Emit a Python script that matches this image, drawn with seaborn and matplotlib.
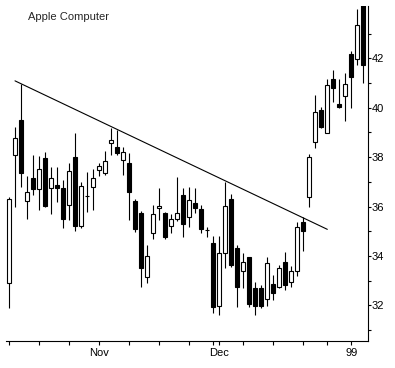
import numpy as np
import pandas as pd
import seaborn as sns
import matplotlib.pyplot as plt

# daily OHLC, Oct 12 1998 .. Jan 6 1999 (trading days)
opens = [32.90, 38.10, 39.50, 36.24, 37.15, 36.70, 37.95, 36.74, 36.87, 36.74,
         36.05, 38.00, 35.22, 36.44, 36.81, 37.48, 37.37, 38.56, 38.40, 37.89,
         37.75, 36.23, 35.73, 33.17, 34.94, 35.93, 35.73, 35.22, 35.49, 36.47,
         35.57, 36.13, 35.89, 35.05, 34.54, 31.98, 34.11, 36.30, 34.31, 33.38,
         33.95, 32.70, 32.70, 32.25, 32.86, 32.74, 33.75, 32.94, 33.40, 35.37,
         36.38, 38.63, 39.91, 38.99, 41.16, 40.14, 40.49, 42.17, 41.96, 44.50]
closes = [36.30, 38.76, 37.37, 36.60, 36.70, 37.51, 36.02, 37.15, 36.74, 35.49,
          37.44, 35.22, 36.83, 36.44, 37.15, 37.64, 37.85, 38.70, 38.18, 38.20,
          36.60, 35.08, 33.53, 34.00, 35.69, 36.03, 34.78, 35.49, 35.73, 35.30,
          36.27, 35.93, 35.11, 35.05, 31.93, 34.11, 36.03, 33.64, 32.74, 33.74,
          32.04, 31.98, 31.98, 33.73, 32.49, 33.53, 32.83, 33.41, 35.19, 35.03,
          37.99, 39.82, 39.23, 40.92, 40.81, 40.04, 40.95, 41.26, 43.35, 41.73]
highs = [36.40, 39.23, 40.96, 37.24, 38.09, 38.05, 38.22, 37.61, 37.60, 37.08,
         37.75, 38.97, 37.00, 37.41, 37.51, 37.78, 38.26, 39.17, 39.10, 38.42,
         38.16, 36.30, 35.84, 34.45, 36.07, 36.74, 35.80, 35.70, 37.21, 36.74,
         36.81, 36.74, 36.07, 35.16, 34.81, 34.81, 37.01, 36.51, 34.45, 34.11,
         33.97, 32.96, 32.83, 33.97, 33.23, 33.62, 34.18, 33.60, 35.39, 35.57,
         38.13, 40.52, 40.04, 41.15, 41.53, 41.16, 41.39, 42.31, 43.98, 44.80]
lows = [31.89, 36.00, 36.81, 35.49, 36.47, 35.86, 35.99, 35.70, 36.20, 35.12,
        35.46, 35.03, 35.12, 35.79, 35.86, 37.24, 37.28, 38.09, 38.09, 37.28,
        35.46, 34.99, 32.76, 32.90, 34.68, 35.46, 34.70, 34.92, 35.43, 34.77,
        35.19, 35.73, 34.92, 34.76, 31.71, 31.62, 33.50, 33.57, 31.95, 32.72,
        31.95, 31.62, 31.89, 31.98, 32.22, 32.70, 32.63, 32.74, 33.19, 34.22,
        36.00, 38.38, 39.17, 38.97, 40.24, 39.98, 39.48, 39.98, 41.73, 41.01]

# trendline drawn over the highs
trend_x = [0.95, 53.0]
trend_y = [41.09, 35.08]

# axis ticks (trading-day index)
month_ticks = [15, 35, 57]
month_labels = ["Nov", "Dec", "99"]
week_ticks = [0, 5, 10, 20, 25, 30, 34, 39, 44, 49, 53]

df = pd.DataFrame({"day": np.arange(len(opens)), "open": opens, "high": highs,
                   "low": lows, "close": closes})
df["up"] = df["close"] >= df["open"]
df["bottom"] = df[["open", "close"]].min(axis=1)
df["height"] = (df["close"] - df["open"]).abs()

sns.set_style("ticks")
plt.rcParams['font.family'] = ['Liberation Sans', 'DejaVu Sans']

fig = plt.figure(figsize=(3.95, 3.68), dpi=100)
ax = fig.add_axes([6 / 395, 1 - 341 / 368, (367.7 - 6) / 395, (341 - 6) / 368])

ax.vlines(df["day"], df["low"], df["high"], color="black", lw=0.8, zorder=1)
ax.bar(df["day"], df["height"], bottom=df["bottom"], width=0.68,
       color=np.where(df["up"], "white", "black"), edgecolor="black",
       linewidth=0.8, zorder=2)
sns.lineplot(x=trend_x, y=trend_y, color="black", lw=0.8, ax=ax)

ax.set_xlim(-0.55, 59.73)
ax.set_ylim(30.56, 44.12)
ax.yaxis.tick_right()
ax.set_yticks(range(32, 43, 2))
ax.set_yticks(range(31, 44, 2), minor=True)
ax.set_xticks(month_ticks, month_labels)
ax.set_xticks(week_ticks, minor=True)
ax.tick_params(axis="y", which="both", direction="out", length=2.5, width=0.8,
               pad=0.5, labelsize=8, colors="black")
ax.tick_params(axis="x", which="both", direction="out", length=3, width=0.8,
               pad=2, labelsize=8, colors="black")
for s in ["left", "top"]:
    ax.spines[s].set_visible(False)
for s in ["right", "bottom"]:
    ax.spines[s].set_color("black")
    ax.spines[s].set_linewidth(0.8)

fig.text(28 / 395, 1 - 17 / 368, "Apple Computer", fontsize=8, va="center")

fig.savefig("out.png", dpi=100)
